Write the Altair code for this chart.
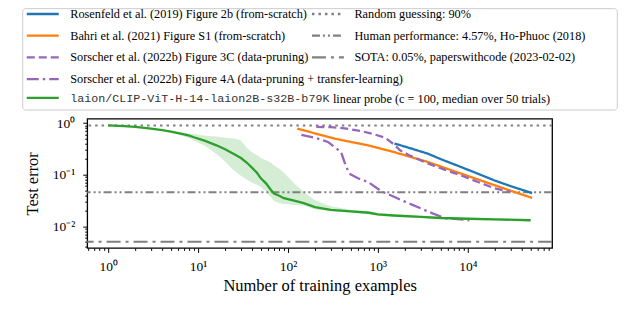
import altair as alt
import pandas as pd

# ---------------- data ----------------
lit_names = [
    "Rosenfeld et al. (2019) Figure 2b (from-scratch)",
    "Bahri et al. (2021) Figure S1 (from-scratch)",
    "Sorscher et al. (2022b) Figure 3C (data-pruning)",
    "Sorscher et al. (2022b) Figure 4A (data-pruning + transfer-learning)",
]
lit_colors = ["#1f77b4", "#ff7f0e", "#9467bd", "#9467bd"]
lit_dashes = [[1, 0], [1, 0], [8, 4], [12, 4, 2.5, 4]]

rosenfeld_n = [1530, 2000, 3600, 5000, 8400, 12000, 19600, 30000, 52000]
rosenfeld_err = [0.40, 0.35, 0.255, 0.20, 0.141, 0.11, 0.078, 0.06, 0.044]

bahri_n = [127, 200, 328, 500, 780, 1530, 3600, 8400, 19600, 52000]
bahri_err = [0.78, 0.63, 0.50, 0.43, 0.37, 0.272, 0.176, 0.105, 0.063, 0.0354]

s3c_n = [207, 300, 425, 650, 920, 1200, 1530, 1750, 2200, 3600, 5500, 8400, 13000, 19600, 30000]
s3c_err = [0.84, 0.83, 0.79, 0.70, 0.60, 0.52, 0.38, 0.30, 0.24, 0.165, 0.125, 0.097, 0.072, 0.055, 0.046]

s4a_n = [141, 200, 278, 390, 425, 480, 600, 780, 1090, 1530, 2000, 3050, 4000, 5500, 10400]
s4a_err = [0.59, 0.52, 0.43, 0.275, 0.176, 0.105, 0.085, 0.072, 0.048, 0.037, 0.030, 0.022, 0.018, 0.0145, 0.0131]

laion_name = "laion/CLIP-ViT-H-14-laion2B-s32B-b79K"
laion_title = "linear probe (c = 100, median over 50 trials)"
laion_n = [1, 1.5, 2, 3, 4, 5, 6, 7, 8, 9, 12, 16, 20, 25, 30, 35, 40, 45, 50, 57, 65, 70, 80, 90,
           100, 120, 150, 200, 300, 500, 800, 1000, 1500, 3000, 5000, 10000, 20000, 50000]
laion_err = [0.90, 0.87, 0.84, 0.78, 0.73, 0.68, 0.64, 0.60, 0.57, 0.53, 0.45, 0.37, 0.31, 0.25, 0.21,
             0.17, 0.135, 0.11, 0.085, 0.068, 0.05, 0.043, 0.039, 0.035, 0.0335, 0.031, 0.028, 0.0235,
             0.0208, 0.0195, 0.0183, 0.0170, 0.0162, 0.0152, 0.0145, 0.0140, 0.0136, 0.0131]
laion_hi = [0.91, 0.88, 0.85, 0.79, 0.75, 0.71, 0.68, 0.65, 0.63, 0.61, 0.57, 0.55, 0.52, 0.50, 0.46,
            0.33, 0.27, 0.24, 0.21, 0.19, 0.17, 0.15, 0.13, 0.11, 0.09, 0.065, 0.046, 0.032,
            0.0245, 0.021, 0.0195, 0.018, 0.0172, 0.016, 0.0152, 0.0146, 0.0141, 0.0135]
laion_lo = [0.89, 0.86, 0.83, 0.77, 0.71, 0.65, 0.60, 0.55, 0.50, 0.46, 0.36, 0.25, 0.18, 0.12, 0.095,
            0.08, 0.07, 0.064, 0.058, 0.047, 0.036, 0.031, 0.028, 0.027, 0.027, 0.026, 0.025, 0.0215,
            0.0195, 0.0183, 0.0172, 0.016, 0.0153, 0.0145, 0.0139, 0.0134, 0.013, 0.0126]

ref_names = [
    "Random guessing: 90%",
    "Human performance: 4.57%, Ho-Phuoc (2018)",
    "SOTA: 0.05%, paperswithcode (2023-02-02)",
]
ref_err = [0.9, 0.0457, 0.005]
ref_dashes = [[2.5, 4], [8, 3, 2, 3, 2, 3], [14, 5, 3, 5]]

x_domain = [0.585, 86700]
y_domain = [0.00382, 1.21]

# ---------------- tables ----------------
rows = []
for name, ns, es in zip(lit_names, [rosenfeld_n, bahri_n, s3c_n, s4a_n],
                        [rosenfeld_err, bahri_err, s3c_err, s4a_err]):
    for n, e in zip(ns, es):
        rows.append({"n": n, "err": e, "series": name})
lit_df = pd.DataFrame(rows)
laion_df = pd.DataFrame({"n": laion_n, "err": laion_err, "lo": laion_lo, "hi": laion_hi,
                         "probe": laion_name})
ref_df = pd.DataFrame({"ref": ref_names, "err": ref_err})


def log_ticks(lo, hi, kmin, kmax):
    out = []
    for k in range(kmin, kmax + 1):
        for m in range(1, 10):
            v = float(f"{m}e{k}")
            if lo <= v <= hi:
                out.append(v)
    return out


x_ticks = log_ticks(x_domain[0], x_domain[1], -1, 5)
y_ticks = log_ticks(y_domain[0], y_domain[1], -3, 0)

SUP = {"-": "\u207b", "0": "\u2070", "1": "\u00b9", "2": "\u00b2", "3": "\u00b3", "4": "\u2074",
       "5": "\u2075"}
is_major = "abs(log(datum.value)/LN10 - round(log(datum.value)/LN10)) < 1e-6"


def label_expr(kmin, kmax):
    expr = "''"
    for k in range(kmin, kmax + 1):
        sup = "".join(SUP[c] for c in str(k))
        expr = f"(round(log(datum.value)/LN10) == {k} && {is_major}) ? '10{sup}' : " + expr
    return expr


SERIF = "Liberation Serif"
tick_size = {"condition": {"test": is_major, "value": 4.5}, "value": 2.5}

x_scale = alt.Scale(type="log", domain=x_domain, nice=False)
y_scale = alt.Scale(type="log", domain=y_domain, nice=False)

x_axis = alt.Axis(values=x_ticks, labelExpr=label_expr(-1, 5), tickSize=tick_size,
                  title="Number of training examples", labelOverlap=False, labelFlush=False,
                  labelPadding=7, titlePadding=5)
y_axis = alt.Axis(values=y_ticks, labelExpr=label_expr(-3, 0), tickSize=tick_size,
                  title="Test error", labelOverlap=False, labelFlush=False,
                  labelPadding=8, titlePadding=12)

X = alt.X("n:Q", scale=x_scale, axis=x_axis)
Y = alt.Y("err:Q", scale=y_scale, axis=y_axis)

leg_common = dict(orient="none", title=None, symbolType="stroke", symbolSize=1024,
                  symbolStrokeWidth=2.3, clipHeight=10, rowPadding=8.7, padding=0,
                  labelFont=SERIF, labelFontSize=12.3, labelColor="black", labelLimit=1000,
                  labelOffset=10)

# legend frame (decoration only)
frame = alt.Chart(pd.DataFrame({"d": [0]})).mark_rect(
    fillOpacity=0, stroke="#cccccc", strokeWidth=1, cornerRadius=3
).encode(x=alt.value(-64.6), x2=alt.value(530.7), y=alt.value(-110.2), y2=alt.value(-8.7))

band = alt.Chart(laion_df).mark_area(color="#2ca02c", opacity=0.2).encode(
    x=alt.X("n:Q", scale=x_scale, axis=x_axis), y=alt.Y("lo:Q", scale=y_scale, axis=y_axis),
    y2="hi:Q")

refs = alt.Chart(ref_df).mark_rule(color="#808080", strokeWidth=2).encode(
    y=alt.Y("err:Q", scale=y_scale, axis=y_axis),
    strokeDash=alt.StrokeDash("ref:N", scale=alt.Scale(domain=ref_names, range=ref_dashes),
                              legend=alt.Legend(legendX=223.5, legendY=-109.85,
                                                symbolStrokeColor="#808080",
                                                **{**leg_common, "labelOffset": 9})))

lit_leg = alt.Legend(legendX=-62, legendY=-109.85, **leg_common)
lit = alt.Chart(lit_df).mark_line(strokeWidth=2.3, clip=True).encode(
    x=X, y=Y,
    color=alt.Color("series:N", scale=alt.Scale(domain=lit_names, range=lit_colors), legend=lit_leg),
    strokeDash=alt.StrokeDash("series:N", scale=alt.Scale(domain=lit_names, range=lit_dashes),
                              legend=lit_leg),
    order="n:Q")

laion_leg = alt.Legend(legendX=-62, legendY=-25.9, symbolStrokeColor="#2ca02c",
                       **{**leg_common, "labelFont": "Liberation Mono, DejaVu Sans Mono",
                          "labelFontSize": 11.7, "labelColor": "#333333", "title": laion_title},
                       titleOrient="right", titleFont=SERIF, titleFontSize=12.3,
                       titleFontWeight="normal", titleColor="black", titlePadding=3,
                       titleLimit=1000, titleBaseline="middle")
laion = alt.Chart(laion_df).mark_line(color="#2ca02c", strokeWidth=2.3).encode(
    x=X, y=Y,
    opacity=alt.Opacity("probe:N", scale=alt.Scale(domain=[laion_name], range=[1]), legend=laion_leg),
    order="n:Q")

chart = alt.layer(frame, band, refs, lit, laion).resolve_scale(
    color="independent", strokeDash="independent", opacity="independent"
).properties(
    width=465.4, height=129.3,
    autosize=alt.AutoSizeParams(type="none"),
    padding={"left": 79.3, "top": 110.7, "right": 80, "bottom": 56},
).configure_view(
    stroke="black", strokeWidth=1.3
).configure_axis(
    grid=False, domain=False, tickColor="black", tickWidth=1,
    labelFont=SERIF, labelFontSize=13.5, labelColor="black",
    titleFont=SERIF, titleFontSize=16.5, titleFontWeight="normal", titleColor="black",
)

chart.save("out.html", embed_options={"renderer": "svg", "actions": False})
